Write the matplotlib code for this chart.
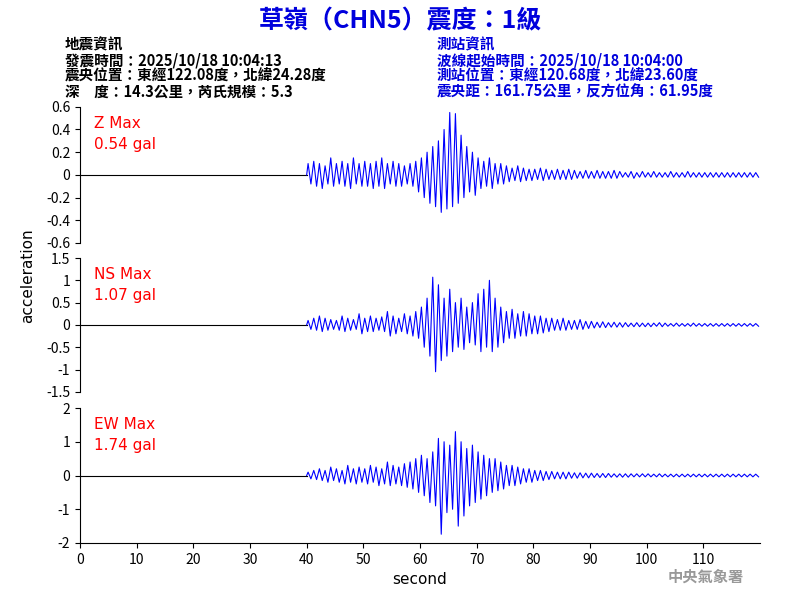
import numpy as np
import matplotlib.pyplot as plt

plt.rcParams['font.family'] = ['Noto Sans CJK TC', 'DejaVu Sans']

# envelope read per second from 40 s to 119 s: (up, down) peaks
z_up = [0.10, 0.12, 0.10, 0.08, 0.15, 0.10, 0.12, 0.10, 0.15, 0.10,
        0.12, 0.10, 0.12, 0.15, 0.10, 0.12, 0.10, 0.08, 0.10, 0.12,
        0.15, 0.20, 0.25, 0.30, 0.40, 0.55, 0.54, 0.35, 0.25, 0.20,
        0.15, 0.12, 0.15, 0.10, 0.10, 0.08, 0.06, 0.08, 0.06, 0.05,
        0.05, 0.06, 0.05, 0.04, 0.05, 0.04, 0.05, 0.04, 0.03, 0.04,
        0.03, 0.04, 0.03, 0.03, 0.04, 0.03, 0.02, 0.03, 0.02, 0.03,
        0.02, 0.03, 0.02, 0.02, 0.03, 0.02, 0.02, 0.03, 0.02, 0.02,
        0.02, 0.02, 0.02, 0.02, 0.02, 0.02, 0.02, 0.02, 0.02, 0.02]
z_dn = [0.08, 0.10, 0.12, 0.08, 0.10, 0.08, 0.10, 0.12, 0.08, 0.10,
        0.10, 0.12, 0.10, 0.12, 0.08, 0.10, 0.10, 0.08, 0.10, 0.15,
        0.20, 0.25, 0.28, 0.33, 0.30, 0.28, 0.25, 0.20, 0.15, 0.18,
        0.12, 0.10, 0.12, 0.08, 0.08, 0.06, 0.05, 0.06, 0.05, 0.05,
        0.04, 0.05, 0.04, 0.04, 0.04, 0.04, 0.04, 0.03, 0.03, 0.03,
        0.03, 0.03, 0.03, 0.03, 0.03, 0.02, 0.02, 0.03, 0.02, 0.02,
        0.02, 0.02, 0.02, 0.02, 0.02, 0.02, 0.02, 0.02, 0.02, 0.02,
        0.02, 0.02, 0.02, 0.02, 0.02, 0.02, 0.02, 0.02, 0.02, 0.02]
ns_up = [0.10, 0.15, 0.20, 0.15, 0.12, 0.10, 0.20, 0.15, 0.12, 0.25,
         0.15, 0.20, 0.15, 0.18, 0.30, 0.20, 0.15, 0.25, 0.20, 0.30,
         0.40, 0.60, 1.07, 0.90, 0.60, 0.80, 0.50, 0.60, 0.40, 0.50,
         0.70, 0.80, 1.00, 0.60, 0.40, 0.30, 0.35, 0.25, 0.30, 0.25,
         0.20, 0.20, 0.15, 0.15, 0.12, 0.15, 0.10, 0.10, 0.12, 0.08,
         0.08, 0.06, 0.07, 0.05, 0.06, 0.05, 0.05, 0.04, 0.05, 0.04,
         0.04, 0.04, 0.05, 0.04, 0.03, 0.04, 0.03, 0.03, 0.04, 0.03,
         0.03, 0.03, 0.03, 0.03, 0.03, 0.03, 0.03, 0.03, 0.03, 0.03]
ns_dn = [0.10, 0.12, 0.15, 0.12, 0.10, 0.12, 0.15, 0.12, 0.10, 0.20,
         0.15, 0.15, 0.12, 0.15, 0.25, 0.20, 0.15, 0.20, 0.25, 0.30,
         0.50, 0.70, 1.05, 0.80, 0.70, 0.60, 0.50, 0.55, 0.40, 0.45,
         0.60, 0.50, 0.60, 0.50, 0.40, 0.30, 0.30, 0.25, 0.25, 0.20,
         0.20, 0.18, 0.15, 0.12, 0.12, 0.12, 0.10, 0.10, 0.10, 0.08,
         0.07, 0.06, 0.06, 0.05, 0.05, 0.05, 0.04, 0.04, 0.04, 0.04,
         0.04, 0.03, 0.04, 0.03, 0.03, 0.03, 0.03, 0.03, 0.03, 0.03,
         0.03, 0.03, 0.03, 0.03, 0.03, 0.03, 0.03, 0.03, 0.03, 0.03]
ew_up = [0.10, 0.15, 0.20, 0.15, 0.25, 0.20, 0.15, 0.30, 0.20, 0.25,
         0.20, 0.30, 0.25, 0.20, 0.40, 0.30, 0.25, 0.35, 0.40, 0.50,
         0.60, 0.50, 0.70, 1.10, 1.00, 0.90, 1.30, 1.00, 0.80, 0.90,
         0.70, 0.60, 0.50, 0.50, 0.40, 0.30, 0.30, 0.25, 0.20, 0.20,
         0.15, 0.15, 0.12, 0.12, 0.10, 0.10, 0.10, 0.08, 0.08, 0.07,
         0.07, 0.06, 0.06, 0.06, 0.05, 0.05, 0.05, 0.05, 0.05, 0.05,
         0.05, 0.04, 0.05, 0.04, 0.04, 0.04, 0.04, 0.04, 0.04, 0.04,
         0.04, 0.04, 0.04, 0.04, 0.04, 0.04, 0.04, 0.04, 0.04, 0.04]
ew_dn = [0.10, 0.12, 0.15, 0.20, 0.15, 0.20, 0.25, 0.20, 0.25, 0.20,
         0.25, 0.20, 0.30, 0.25, 0.30, 0.25, 0.30, 0.35, 0.40, 0.50,
         0.60, 0.80, 0.90, 1.74, 1.10, 1.00, 1.50, 1.20, 0.90, 0.80,
         0.70, 0.60, 0.50, 0.45, 0.40, 0.30, 0.30, 0.25, 0.20, 0.20,
         0.15, 0.15, 0.12, 0.10, 0.10, 0.10, 0.08, 0.08, 0.07, 0.07,
         0.06, 0.06, 0.06, 0.05, 0.05, 0.05, 0.05, 0.04, 0.04, 0.04,
         0.04, 0.04, 0.04, 0.04, 0.04, 0.04, 0.04, 0.04, 0.04, 0.04,
         0.04, 0.04, 0.04, 0.04, 0.04, 0.04, 0.04, 0.04, 0.04, 0.04]
channels = [("Z", z_up, z_dn, 0.6, [-0.6, -0.4, -0.2, 0, 0.2, 0.4, 0.6], "0.54 gal"),
            ("NS", ns_up, ns_dn, 1.5, [-1.5, -1, -0.5, 0, 0.5, 1, 1.5], "1.07 gal"),
            ("EW", ew_up, ew_dn, 2.0, [-2, -1, 0, 1, 2], "1.74 gal")]

fig = plt.figure(figsize=(8, 6), dpi=100)
boxes = [(0.1, 0.595, 0.85, 0.227), (0.1, 0.347, 0.85, 0.223), (0.1, 0.095, 0.85, 0.225)]

for (name, up, dn, lim, ticks, mx), box in zip(channels, boxes):
    ax = fig.add_axes(box)
    t = [40]
    v = [0]
    for i, (a, b) in enumerate(zip(up, dn)):
        t += [40 + i + 0.25, 40 + i + 0.75]
        v += [a, -b]
    ax.plot([0, 40], [0, 0], color='black', lw=0.8)
    ax.plot(t, v, color='blue', lw=0.8)
    ax.set_xlim(0, 120)
    ax.set_ylim(-lim, lim)
    ax.set_yticks(ticks)
    ax.set_yticklabels([f"{x:g}" for x in ticks], fontsize=10)
    for s in ['top', 'right']:
        ax.spines[s].set_visible(False)
    ax.text(0.02, 0.93, f"{name} Max\n{mx}", transform=ax.transAxes, color='red',
            fontsize=11, va='top', family='DejaVu Sans', linespacing=1.5)
    if name != "EW":
        ax.spines['bottom'].set_visible(False)
        ax.set_xticks([])
    else:
        ax.set_xticks(range(0, 120, 10))
        ax.tick_params(labelsize=10)
        ax.set_xlabel("second", fontsize=11, family='DejaVu Sans')

fig.text(0.035, 0.54, "acceleration", rotation=90, va='center', ha='center', fontsize=11,
         family='DejaVu Sans')
fig.text(0.5, 0.965, "草嶺（CHN5）震度：1級", color='#0000dd', fontsize=18,
         weight='bold', ha='center', va='center')
left = "地震資訊\n發震時間：2025/10/18 10:04:13\n震央位置：東經122.08度，北緯24.28度\n深　度：14.3公里，芮氏規模：5.3"
right = "測站資訊\n波線起始時間：2025/10/18 10:04:00\n測站位置：東經120.68度，北緯23.60度\n震央距：161.75公里，反方位角：61.95度"
fig.text(0.081, 0.94, left, fontsize=10.5, va='top', linespacing=1.0, weight='bold')
fig.text(0.546, 0.94, right, fontsize=10.5, va='top', color='#0000dd', linespacing=1.0,
         weight='bold')
fig.text(0.93, 0.03, "中央氣象署", color='#999999', fontsize=11, weight='bold', ha='right')

fig.savefig("out.png", dpi=100)
